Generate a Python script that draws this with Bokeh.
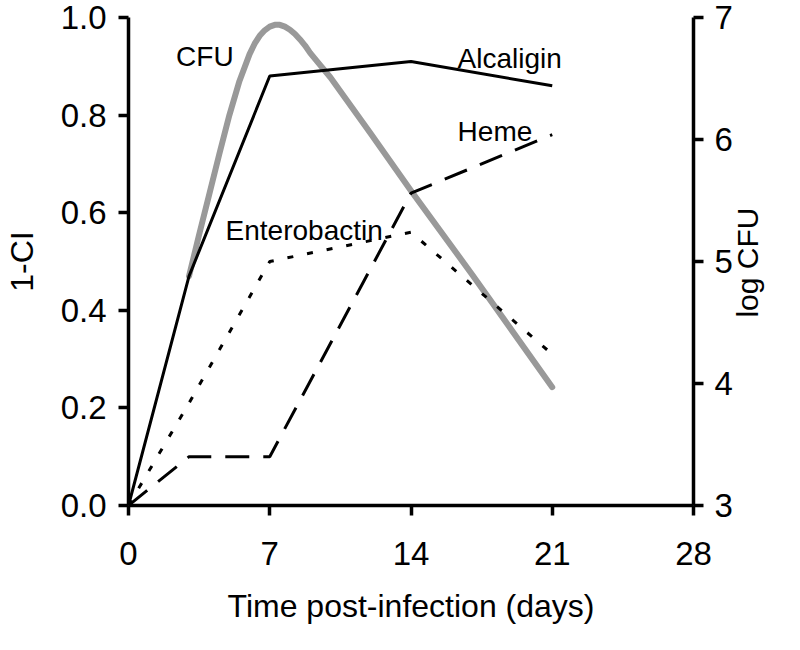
import math
from bokeh.plotting import figure
from bokeh.models import Range1d, LinearAxis, FixedTicker, Label, PrintfTickFormatter
from bokeh.embed import file_html
from bokeh.resources import INLINE

# ---- data ----
days = [0, 3, 7, 14, 21]
alcaligin = [0.0, 0.47, 0.88, 0.91, 0.86]
enterobactin = [0.0, 0.21, 0.50, 0.56, 0.31]
heme = [0.0, 0.10, 0.10, 0.64, 0.76]

# grey CFU curve at these days (log CFU, right axis)
cfu_days = [3, 3.5, 4, 4.5, 5, 5.5, 6, 6.25, 6.5, 6.75, 7, 7.25, 7.5, 7.75,
            8, 8.25, 8.5, 8.75, 9, 9.5, 10, 12, 14, 17, 21]
cfu_log = [4.88, 5.22, 5.55, 5.88, 6.2, 6.48, 6.7, 6.785, 6.85, 6.895, 6.925,
           6.94, 6.94, 6.925, 6.9, 6.865, 6.82, 6.77, 6.71, 6.61, 6.51, 6.05,
           5.58, 4.9, 3.97]

x_ticks = [0, 7, 14, 21, 28]
left_ticks = [0.0, 0.2, 0.4, 0.6, 0.8, 1.0]
right_ticks = [3, 4, 5, 6, 7]

ann_text = ["CFU", "Alcaligin", "Heme", "Enterobactin"]
ann_x = [2.36, 16.31, 16.31, 4.81]
ann_y = [0.921, 0.915, 0.766, 0.563]

right_title = "log CFU"
right_title_start = 4.54   # log-CFU level where the rotated title begins

FONT = "Liberation Sans"
TICK_SIZE = "33px"

p = figure(width=784, height=634, output_backend="svg", toolbar_location=None,
           x_range=Range1d(0, 28), y_range=Range1d(0, 1.0),
           min_border_left=123, min_border_right=91, min_border_top=17,
           min_border_bottom=129)
p.extra_y_ranges = {"cfu": Range1d(3, 7)}
p.outline_line_color = None
p.grid.visible = False
p.background_fill_color = "white"
p.border_fill_color = "white"


def style_axis(ax):
    ax.axis_line_width = 3.5
    ax.axis_line_color = "black"
    ax.major_tick_line_width = 3.5
    ax.major_tick_line_color = "black"
    ax.major_tick_out = 10
    ax.major_tick_in = 0
    ax.minor_tick_line_color = None
    ax.major_label_text_font = FONT
    ax.major_label_text_font_size = TICK_SIZE
    ax.major_label_text_color = "black"
    ax.axis_label_text_font = FONT
    ax.axis_label_text_font_size = "32px"
    ax.axis_label_text_font_style = "normal"
    ax.axis_label_text_color = "black"


xa = p.xaxis[0]
style_axis(xa)
xa.ticker = FixedTicker(ticks=x_ticks)
xa.axis_label = "Time post-infection (days)"
xa.major_label_standoff = 26
xa.axis_label_standoff = 20

ya = p.yaxis[0]
style_axis(ya)
ya.ticker = FixedTicker(ticks=left_ticks)
ya.formatter = PrintfTickFormatter(format="%.1f")
ya.axis_label = "1-CI"
ya.major_label_standoff = 12
ya.axis_label_standoff = 18

# right axis: line, ticks and tick labels
ra = LinearAxis(y_range_name="cfu")
style_axis(ra)
ra.ticker = FixedTicker(ticks=right_ticks)
ra.major_label_standoff = 11
p.add_layout(ra, "right")

# second right axis carrying only the title, reading bottom-to-top
rb = LinearAxis(y_range_name="cfu")
style_axis(rb)
rb.ticker = FixedTicker(ticks=[right_title_start])
rb.major_label_overrides = {right_title_start: right_title}
rb.major_label_orientation = math.pi / 2
rb.major_label_text_font_size = "30px"
rb.axis_line_color = None
rb.major_tick_line_color = None
rb.major_tick_out = 0
rb.major_label_standoff = 12
p.add_layout(rb, "right")

# CFU (grey, right axis)
p.line(cfu_days, cfu_log, y_range_name="cfu", line_color="#999999",
       line_width=6, line_join="round", line_cap="round")

# siderophore / heme series
p.line(days, alcaligin, line_color="black", line_width=3)
p.line(days, enterobactin, line_color="black", line_width=3, line_dash="6 14")
p.line(days, heme, line_color="black", line_width=3, line_dash="24 14")

for t, x, y in zip(ann_text, ann_x, ann_y):
    p.add_layout(Label(x=x, y=y, text=t, text_font=FONT, text_font_size="28px",
                       text_align="left", text_baseline="alphabetic",
                       text_color="black"))

open("out.html", "w").write(file_html(p, INLINE))
